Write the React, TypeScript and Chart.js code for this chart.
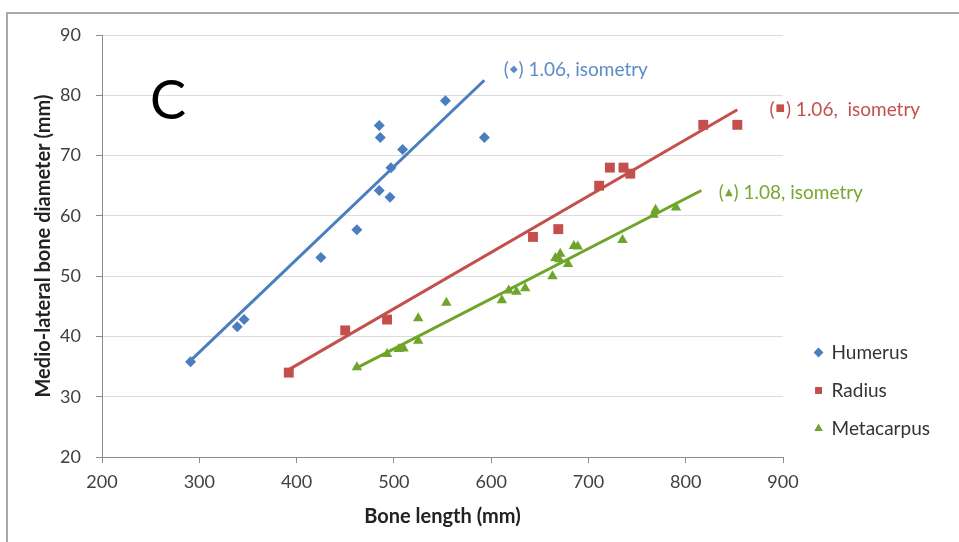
import { useEffect, useRef } from "react";
import { Chart, registerables } from "chart.js";

Chart.register(...registerables);

// ---- data ----
const humerusLength = [291, 339, 346, 425, 462, 485, 496, 497, 485, 486, 509, 553, 593];
const humerusDiameter = [35.8, 41.6, 42.8, 53.1, 57.7, 64.2, 63.1, 68.0, 75.0, 73.0, 71.0, 79.1, 73.0];

const radiusLength = [392, 450, 493, 643, 669, 711, 722, 736, 743, 818, 853];
const radiusDiameter = [34.0, 41.0, 42.8, 56.5, 57.8, 65.0, 68.0, 68.0, 67.0, 75.1, 75.1];

const metacarpusLength = [462, 493, 505, 510, 525, 525, 554, 611, 618, 626, 635, 663, 666, 670, 671, 679, 685, 689, 735, 767, 769, 790];
const metacarpusDiameter = [34.9, 37.1, 37.9, 38.0, 39.3, 43.0, 45.6, 46.0, 47.6, 47.4, 48.0, 50.0, 53.0, 52.8, 53.7, 52.0, 55.0, 54.9, 56.0, 60.2, 61.0, 61.4];

// fitted lines (end points)
const humerusFitLength = [291, 593];
const humerusFitDiameter = [36.0, 82.5];
const radiusFitLength = [392, 853];
const radiusFitDiameter = [34.5, 77.6];
const metacarpusFitLength = [461, 816];
const metacarpusFitDiameter = [34.7, 64.2];

const seriesNames = ["Humerus", "Radius", "Metacarpus"];
const noteSymbols = ["◆", "■", "▲"];
const noteTexts = [" 1.06, isometry", " 1.06,  isometry", " 1.08, isometry"];
const panelLetter = "C";

const xTicksMin = 200;
const xTicksMax = 900;
const xStep = 100;
const yTicksMin = 20;
const yTicksMax = 90;
const yStep = 10;

// ---- styling / placement (kept apart from the data) ----
const COLORS = ["#4a7ebf", "#c4504d", "#6ea52a"];
const NOTE_COLORS = ["#5b8bc9", "#c4504d", "#7aa632"];
const NOTE_POS = [
  { x: 613, y: 84.2 },
  { x: 886, y: 77.6 },
  { x: 834, y: 63.8 },
];
const PANEL_POS = { x: 268, y: 78.9 };
const FONT = "Lato";

const toPoints = (xs: number[], ys: number[]) => xs.map((x, i) => ({ x, y: ys[i] }));

const notesPlugin = {
  id: "notes",
  afterDraw(chart: any) {
    const { ctx } = chart;
    const xs = chart.scales.x;
    const ys = chart.scales.y;
    ctx.save();
    ctx.textBaseline = "middle";
    ctx.textAlign = "center";
    ctx.fillStyle = "#000";
    ctx.font = `54px ${FONT}`;
    ctx.fillText(panelLetter, xs.getPixelForValue(PANEL_POS.x), ys.getPixelForValue(PANEL_POS.y));
    ctx.textAlign = "left";
    for (let i = 0; i < noteSymbols.length; i++) {
      let px = xs.getPixelForValue(NOTE_POS[i].x);
      const py = ys.getPixelForValue(NOTE_POS[i].y);
      ctx.fillStyle = NOTE_COLORS[i];
      const parts: [string, string][] = [
        ["(", `19px ${FONT}`],
        [noteSymbols[i], `10px 'DejaVu Sans'`],
        [")" + noteTexts[i], `19px ${FONT}`],
      ];
      for (const [t, f] of parts) {
        const isSym = t === noteSymbols[i];
        ctx.font = f;
        ctx.fillText(t, px + (isSym ? 1 : 0), py - (isSym ? 1 : 0));
        px += ctx.measureText(t).width + (isSym ? 2 : 0);
      }
    }
    ctx.restore();
  },
};

const legendShift = {
  id: "legendShift",
  afterLayout(chart: any) {
    const l = chart.legend;
    if (l) {
      l.left += 13;
      l.right += 13;
    }
  },
};

export default function App() {
  const ref = useRef<HTMLCanvasElement | null>(null);

  useEffect(() => {
    if (!ref.current) return;
    const styles = ["rectRot", "rect", "triangle"];
    const radii = [5.5, 7, 6];
    const pts = [
      toPoints(humerusLength, humerusDiameter),
      toPoints(radiusLength, radiusDiameter),
      toPoints(metacarpusLength, metacarpusDiameter),
    ];
    const fits = [
      toPoints(humerusFitLength, humerusFitDiameter),
      toPoints(radiusFitLength, radiusFitDiameter),
      toPoints(metacarpusFitLength, metacarpusFitDiameter),
    ];
    const datasets: any[] = [];
    for (let i = 0; i < 3; i++) {
      datasets.push({
        label: seriesNames[i],
        data: pts[i],
        pointStyle: styles[i],
        pointRadius: radii[i],
        pointBorderWidth: 0,
        backgroundColor: COLORS[i],
        borderColor: COLORS[i],
        showLine: false,
        order: 1,
      });
    }
    for (let i = 0; i < 3; i++) {
      datasets.push({
        label: seriesNames[i] + " fit",
        data: fits[i],
        showLine: true,
        pointRadius: 0,
        borderWidth: 3,
        borderColor: COLORS[i],
        backgroundColor: COLORS[i],
        order: 0,
      });
    }

    const chart = new Chart(ref.current, {
      type: "scatter",
      data: { datasets },
      plugins: [notesPlugin, legendShift],
      options: {
        responsive: false,
        animation: false,
        layout: { padding: { top: 35, left: 0, right: 32, bottom: 0 } },
        plugins: {
          tooltip: { enabled: false },
          legend: {
            position: "right",
            align: "end",
            fullSize: false,
            labels: {
              usePointStyle: true,
              boxHeight: 7,
              boxWidth: 7,
              padding: 19,
              color: "#333",
              font: { family: FONT, size: 19 },
              filter: (item: any) => item.datasetIndex < 3,
            },
          },
        },
        scales: {
          x: {
            type: "linear",
            min: xTicksMin,
            max: xTicksMax,
            ticks: {
              stepSize: xStep,
              padding: 8,
              color: "#404040",
              font: { family: FONT, size: 18 },
            },
            grid: {
              drawOnChartArea: false,
              drawTicks: true,
              tickLength: 6,
              tickColor: "#8c8c8c",
            },
            border: { color: "#8c8c8c", width: 1 },
            title: {
              display: true,
              text: "Bone length (mm)",
              color: "#222",
              font: { family: FONT, size: 20, weight: "bold" },
              padding: { top: 0, bottom: 13 },
            },
            afterFit(scale: any) {
              scale.height = 85;
            },
          },
          y: {
            type: "linear",
            min: yTicksMin,
            max: yTicksMax,
            ticks: {
              stepSize: yStep,
              padding: 15,
              color: "#404040",
              font: { family: FONT, size: 18 },
            },
            grid: {
              color: "#dcdcdc",
              lineWidth: 1,
              drawTicks: true,
              tickLength: 6,
              tickColor: "#8c8c8c",
            },
            border: { color: "#8c8c8c", width: 1 },
            title: {
              display: true,
              text: "Medio-lateral bone diameter (mm)",
              color: "#222",
              font: { family: FONT, size: 20, weight: "bold" },
              padding: { top: 32, bottom: 0 },
            },
            afterFit(scale: any) {
              scale.width = 102;
            },
          },
        },
      },
    } as any);
    return () => chart.destroy();
  }, []);

  return (
    <div
      style={{
        position: "fixed",
        left: 0,
        top: 0,
        width: 959,
        height: 542,
        overflow: "hidden",
        background: "#fff",
      }}
    >
      <div
        style={{
          position: "absolute",
          left: 6,
          top: 12,
          width: 1200,
          height: 1200,
          borderLeft: "2px solid #a9a9a9",
          borderTop: "2px solid #a9a9a9",
        }}
      />
      <canvas
        ref={ref}
        width={959}
        height={542}
        style={{ position: "absolute", left: 0, top: 0, display: "block" }}
      />
    </div>
  );
}
